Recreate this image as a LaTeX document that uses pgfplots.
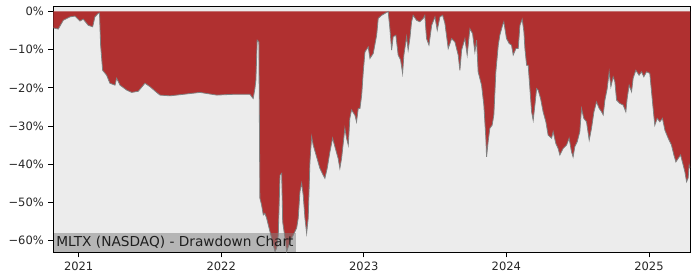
\documentclass[border=0pt]{standalone}
\usepackage{fontspec}
\setmainfont{DejaVu Sans}
\usepackage{pgfplots}
\usepackage{pgfplotstable}
\pgfplotsset{compat=1.18}
\definecolor{ddred}{RGB}{176,48,48}
\definecolor{bggray}{RGB}{236,236,236}
\definecolor{boxgray}{RGB}{128,128,128}
\pgfplotstableread{
x y
2020.822 -4.3
2020.857 -4.6
2020.892 -2.3
2020.939 -1.4
2020.974 -1.2
2021.009 -2.5
2021.032 -2.0
2021.067 -3.6
2021.098 -4.0
2021.114 -1.4
2021.137 -0.5
2021.146 -0.4
2021.154 -8.8
2021.168 -15.4
2021.196 -16.7
2021.219 -18.8
2021.255 -19.3
2021.266 -17.5
2021.290 -19.3
2021.337 -20.6
2021.372 -21.2
2021.418 -20.9
2021.465 -18.8
2021.500 -19.7
2021.547 -21.2
2021.570 -21.9
2021.640 -22.1
2021.734 -21.7
2021.851 -21.2
2021.968 -21.9
2022.084 -21.7
2022.201 -21.7
2022.224 -22.8
2022.236 -20.2
2022.243 -18.0
2022.252 -7.5
2022.264 -8.0
2022.271 -48.9
2022.283 -50.7
2022.295 -53.3
2022.306 -52.9
2022.318 -54.1
2022.342 -57.7
2022.365 -61.2
2022.377 -62.9
2022.389 -62.0
2022.400 -58.6
2022.412 -42.9
2022.424 -42.4
2022.431 -55.1
2022.447 -59.3
2022.459 -62.9
2022.482 -60.3
2022.505 -58.6
2022.529 -56.7
2022.540 -54.1
2022.552 -47.2
2022.564 -45.0
2022.575 -48.1
2022.587 -54.1
2022.599 -58.1
2022.610 -54.1
2022.622 -39.4
2022.634 -32.8
2022.645 -35.0
2022.669 -38.1
2022.692 -41.1
2022.715 -42.9
2022.727 -43.7
2022.743 -41.1
2022.762 -36.8
2022.781 -33.2
2022.797 -35.4
2022.820 -38.5
2022.832 -41.1
2022.844 -38.5
2022.867 -30.6
2022.879 -33.2
2022.891 -35.0
2022.902 -28.0
2022.914 -25.8
2022.938 -27.2
2022.949 -28.9
2022.961 -25.4
2022.973 -25.4
2022.985 -21.9
2022.996 -15.8
2023.008 -10.6
2023.031 -9.3
2023.043 -12.3
2023.066 -11.0
2023.090 -6.2
2023.101 -1.8
2023.125 -1.0
2023.148 -0.5
2023.171 0.0
2023.183 -4.5
2023.195 -10.1
2023.206 -6.6
2023.225 -6.2
2023.241 -11.4
2023.258 -12.7
2023.272 -16.2
2023.281 -11.4
2023.300 -6.6
2023.311 -10.1
2023.323 -7.1
2023.335 -2.7
2023.346 -1.0
2023.370 -2.3
2023.393 -2.7
2023.417 -1.8
2023.428 -1.0
2023.440 -7.1
2023.457 -8.8
2023.476 -3.6
2023.499 -1.4
2023.515 -4.9
2023.534 -1.4
2023.553 -1.0
2023.569 -3.1
2023.592 -9.7
2023.616 -7.1
2023.639 -8.0
2023.662 -11.4
2023.674 -15.4
2023.686 -10.1
2023.709 -7.1
2023.725 -11.4
2023.744 -4.5
2023.763 -5.8
2023.779 -10.6
2023.791 -7.5
2023.802 -15.8
2023.826 -19.3
2023.842 -24.5
2023.856 -33.2
2023.861 -38.1
2023.872 -34.1
2023.884 -30.6
2023.900 -29.8
2023.912 -27.1
2023.926 -15.8
2023.943 -8.8
2023.954 -6.2
2023.973 -3.6
2023.982 -2.7
2024.001 -7.1
2024.020 -8.4
2024.036 -8.8
2024.048 -11.4
2024.067 -9.7
2024.083 -9.7
2024.095 -3.6
2024.111 -2.0
2024.123 -5.3
2024.130 -9.7
2024.142 -14.1
2024.153 -14.1
2024.165 -20.2
2024.177 -26.3
2024.188 -28.5
2024.200 -24.5
2024.212 -20.2
2024.223 -20.6
2024.240 -22.8
2024.258 -26.3
2024.277 -28.9
2024.293 -32.4
2024.317 -33.2
2024.328 -31.5
2024.347 -34.6
2024.363 -35.9
2024.375 -37.6
2024.398 -35.9
2024.422 -35.0
2024.440 -33.2
2024.457 -36.8
2024.468 -38.1
2024.480 -35.4
2024.497 -34.1
2024.515 -31.5
2024.527 -25.4
2024.543 -28.0
2024.562 -28.9
2024.581 -33.7
2024.597 -30.6
2024.614 -26.3
2024.632 -23.7
2024.651 -25.4
2024.668 -26.3
2024.679 -27.1
2024.691 -23.2
2024.707 -20.2
2024.721 -15.8
2024.733 -19.7
2024.749 -17.1
2024.761 -18.4
2024.773 -23.2
2024.796 -24.1
2024.819 -24.5
2024.838 -26.3
2024.847 -22.8
2024.861 -19.3
2024.878 -21.0
2024.889 -17.5
2024.908 -15.4
2024.931 -16.7
2024.948 -15.8
2024.964 -17.1
2024.983 -15.8
2025.006 -16.2
2025.025 -23.7
2025.041 -29.8
2025.058 -28.0
2025.076 -28.9
2025.095 -28.0
2025.112 -31.1
2025.135 -33.2
2025.158 -35.0
2025.175 -37.6
2025.189 -39.4
2025.205 -38.5
2025.222 -37.6
2025.240 -40.2
2025.252 -42.0
2025.264 -44.6
2025.275 -43.6
2025.282 -40.2
2025.288 -41.0
}\dd
\begin{document}
\begin{tikzpicture}
\useasboundingbox (0,0) rectangle (700pt,280pt);
\begin{axis}[
  at={(53.3pt,27.7pt)}, anchor=south west,
  scale only axis, width=636.7pt, height=245.6pt,
  xmin=2020.822, xmax=2025.288,
  ymin=-63.1, ymax=1.26,
  axis background/.style={fill=bggray},
  axis line style={black, line width=0.9pt},
  xtick={2021,2022,2023,2024,2025},
  xticklabels={2021,2022,2023,2024,2025},
  ytick={0,-10,-20,-30,-40,-50,-60},
  yticklabels={0\%,−10\%,−20\%,−30\%,−40\%,−50\%,−60\%},
  tick align=outside,
  major tick length=5pt,
  tick style={black, line width=0.9pt},
  xtick pos=bottom, ytick pos=left,
  ticklabel style={font=\fontsize{11.5}{13}\selectfont, text=black!85},
  xticklabel style={yshift=-1pt},
  yticklabel style={xshift=-1pt},
  /pgf/number format/assume math mode=true,
  clip=true,
]
\addplot[draw=none, fill=ddred] table {\dd} \closedcycle;
\addplot[gray, line width=0.8pt] table {\dd};
\node[anchor=south west, fill=boxgray, fill opacity=0.5, text opacity=1, inner xsep=2.8pt, inner ysep=3.6pt, text=black!88,
  font=\fontsize{13.7}{16}\selectfont] at (rel axis cs:0,0) {MLTX (NASDAQ) - Drawdown Chart};
\end{axis}
\end{tikzpicture}
\end{document}
